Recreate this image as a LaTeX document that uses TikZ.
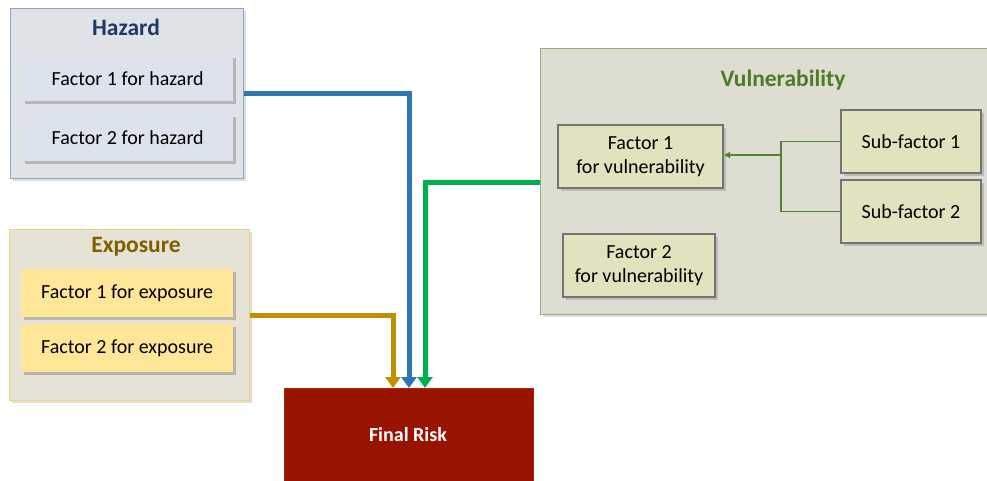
\documentclass[tikz,border=0pt]{standalone}
\usepackage{fontspec}
\setmainfont{Carlito}
\usetikzlibrary{arrows.meta,shadows,calc}
\definecolor{hzB}{HTML}{8EA5BD}
\definecolor{hzF}{HTML}{DFE3E8}
\definecolor{hzT}{HTML}{203864}
\definecolor{hzI}{HTML}{DCE3EC}
\definecolor{exB}{HTML}{F6D272}
\definecolor{exF}{HTML}{E6E2D6}
\definecolor{exT}{HTML}{7F6000}
\definecolor{exI}{HTML}{FFE699}
\definecolor{vuB}{HTML}{94B07E}
\definecolor{vuF}{HTML}{DDDDD1}
\definecolor{vuT}{HTML}{4F7A28}
\definecolor{vuI}{HTML}{E1E2BE}
\definecolor{frF}{HTML}{991400}
\definecolor{arB}{HTML}{2E75B6}
\definecolor{arG}{HTML}{BF9000}
\definecolor{arN}{HTML}{00B050}
\definecolor{lnG}{HTML}{548235}
\tikzset{
  outerbox/.style={draw=#1, line width=1pt, inner sep=0pt, anchor=north west, drop shadow={shadow xshift=2pt, shadow yshift=-2pt, opacity=0.25}},
  innerbox/.style={fill=#1, inner sep=0pt, anchor=north west, font=\fontsize{20}{24}\selectfont, drop shadow={shadow xshift=3pt, shadow yshift=-3pt, opacity=0.45}},
  vubox/.style={fill=vuI, draw=gray!90!black, line width=2pt, inner sep=0pt, anchor=north west, align=center, font=\fontsize{20}{24}\selectfont, drop shadow={shadow xshift=3pt, shadow yshift=-3pt, opacity=0.35}},
  titletext/.style={font=\bfseries\fontsize{23.5}{28}\selectfont, text=#1, inner sep=0pt},
  bigarrow/.style={draw=#1, line width=5pt, -{Triangle[width=15pt,length=11pt]}},
}
\begin{document}
\begin{tikzpicture}[x=1pt,y=-1pt]
\useasboundingbox (0,0) rectangle (987,480);
\clip (0,0) rectangle (987,480);
% Hazard
\node[outerbox=hzB, fill=hzF, minimum width=233pt, minimum height=170pt] (hz) at (10,8) {};
\node[titletext=hzT] (hzt) at (126,27) {Hazard};
\node[innerbox=hzI, minimum width=211pt, minimum height=46pt] (hz1) at (22,55) {Factor 1 for hazard};
\node[innerbox=hzI, minimum width=211pt, minimum height=47pt] (hz2) at (22,114) {Factor 2 for hazard};
% Exposure
\node[outerbox=exB, fill=exF, minimum width=240pt, minimum height=171pt] (ex) at (9,229) {};
\node[titletext=exT] (ext) at (136,247) {Exposure};
\node[innerbox=exI, minimum width=212pt, minimum height=48pt] (ex1) at (21,269) {Factor 1 for exposure};
\node[innerbox=exI, minimum width=212pt, minimum height=48pt] (ex2) at (21,324) {Factor 2 for exposure};
% Vulnerability
\node[outerbox=vuB, fill=vuF, minimum width=460pt, minimum height=266pt] (vu) at (540,48) {};
\node[titletext=vuT] (vut) at (783,80) {Vulnerability};
\node[vubox, minimum width=165pt, minimum height=63pt] (vu1) at (557,124) {Factor 1\\for vulnerability};
\node[vubox, minimum width=152pt, minimum height=63pt] (vu2) at (562,233) {Factor 2\\for vulnerability};
\node[vubox, minimum width=140pt, minimum height=63pt] (sf1) at (840,109) {Sub-factor 1};
\node[vubox, minimum width=140pt, minimum height=63pt] (sf2) at (840,179) {Sub-factor 2};
\coordinate (jn) at (781,155);
\draw[lnG, line width=1.3pt] (sf1.west) -| (jn) |- (sf2.west);
\draw[lnG, line width=1.3pt, -{Triangle[width=6pt,length=6pt]}] (jn) -- (vu1.east |- jn);
% Final risk
\node[fill=frF, draw=frF!80!orange, anchor=north west, inner sep=0pt, minimum width=249pt, minimum height=100pt] (fr) at (284,388) {};
\node[text=white, font=\bfseries\fontsize{20}{24}\selectfont, inner sep=0pt] (frt) at (408,435) {Final Risk};
% arrows
\coordinate (hzo) at (hz.east |- 0,93);
\coordinate (exo) at (ex.east |- 0,315);
\coordinate (vuo) at (vu.west |- 0,182);
\draw[bigarrow=arG] (exo) -| (fr.north -| 393,0);
\draw[bigarrow=arB] (hzo) -| (fr.north -| 409,0);
\draw[bigarrow=arN] (vuo) -| (fr.north -| 425,0);
\end{tikzpicture}
\end{document}
